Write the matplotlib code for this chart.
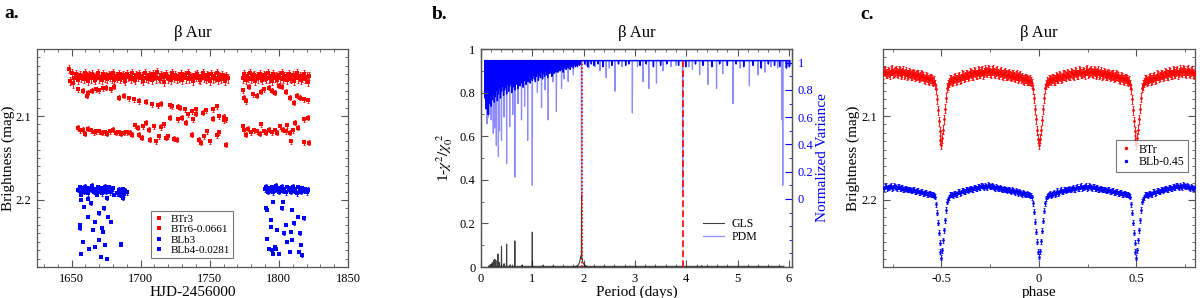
import numpy as np
import matplotlib
matplotlib.use("Agg")
import matplotlib.pyplot as plt
from matplotlib.ticker import MultipleLocator

plt.rcParams["font.family"] = "serif"
plt.rcParams["font.serif"] = ["Liberation Serif", "DejaVu Serif"]
plt.rcParams["mathtext.fontset"] = "stix"

RED = "#ff0000"
BLUE = "#0000ff"

# ---------------- panel a: light curves (mag offsets in mmag from 2.000) ----------------
red_nights1 = np.arange(1648, 1764)
red_band1 = [44, 58, 49, 61, 55, 50, 53, 57, 51, 54,
             52, 56, 49, 53, 58, 51, 55, 50, 54, 57,
             52, 49, 55, 53, 57, 50, 54, 52, 56, 51,
             53, 55, 49, 57, 52, 54, 50, 56, 53, 51,
             55, 58, 50, 53, 52, 56, 49, 54, 57, 51,
             53, 50, 55, 52, 58, 49, 54, 56, 51, 53,
             57, 50, 52, 55, 48, 54, 56, 51, 53, 59,
             50, 52, 55, 53, 57, 49, 54, 51, 56, 52,
             54, 50, 57, 53, 51, 55, 49, 56, 52, 54,
             58, 51, 53, 50, 55, 57, 52, 49, 54, 56,
             51, 53, 58, 50, 55, 52, 54, 49, 57, 53,
             56, 51, 54, 58, 52, 55]
red_ecl1_day = [1655, 1658.5, 1661, 1662, 1664.5, 1668, 1670, 1672.5, 1675, 1678.6, 1681, 1684.5,
                1688, 1691.7, 1695, 1698.8, 1703.6, 1708, 1712.6, 1715, 1721, 1723, 1727, 1728.5,
                1732, 1737, 1740, 1745, 1747.5, 1752, 1755, 1757, 1760, 1762,
                1655, 1656, 1658, 1660, 1662, 1664, 1666, 1668, 1670, 1672, 1674, 1676, 1678,
                1680, 1682, 1684, 1686, 1688, 1690, 1692, 1694, 1696, 1698, 1699, 1701, 1702,
                1704, 1706, 1707, 1709.5, 1711, 1713, 1714.5, 1716.7, 1718, 1720, 1721.4, 1724,
                1726, 1727, 1730, 1733, 1734.5, 1737, 1738, 1740, 1742, 1744, 1746, 1748, 1750,
                1752, 1755, 1757, 1760, 1762]
red_ecl1_mmag = [68, 70, 76, 72, 70, 68, 69, 67, 66, 68, 65, 78,
                 76, 79, 80, 82, 83, 86, 87, 85, 87, 88, 89, 90,
                 92, 94, 92, 96, 93, 92, 88, 100, 101, 104,
                 114, 117, 116, 121, 115, 117, 119, 118, 118, 120, 119, 121, 118,
                 116, 120, 119, 121, 120, 119, 120, 122, 111, 114, 122, 126, 112,
                 108, 116, 128, 112, 130, 124, 113, 110, 126, 124, 102, 127,
                 128, 104, 102, 108, 98, 122, 104, 97, 128, 132, 124, 118, 130,
                 103, 123, 119, 105, 134]

red_nights2 = np.arange(1774, 1823)
red_band2 = [55, 50, 57, 52, 54, 49, 56, 53, 51, 58,
             52, 55, 50, 54, 57, 51, 53, 56, 49, 55,
             52, 58, 50, 54, 53, 57, 51, 55, 49, 56,
             53, 52, 57, 50, 54, 56, 51, 58, 53, 49,
             55, 52, 57, 54, 50, 56, 53, 59, 52]
red_ecl2_day = [1774, 1775, 1776, 1778.6, 1781, 1784.5, 1787, 1789, 1792.9, 1795, 1797, 1800,
                1802, 1805, 1808.3, 1810.7, 1813, 1815, 1818, 1821,
                1774, 1775, 1776, 1778, 1780, 1782, 1784, 1786, 1787, 1789, 1791, 1793, 1795,
                1797, 1799, 1801, 1803, 1805, 1806, 1808, 1808.6, 1810, 1812, 1814, 1818,
                1818.3, 1821, 1821.5]
red_ecl2_mmag = [69, 78, 82, 65, 74, 76, 71, 68, 66, 70, 72, 64,
                 65, 71, 78, 84, 76, 78, 80, 81,
                 112, 117, 122, 115, 119, 117, 118, 121, 110, 118, 120, 116, 119,
                 117, 120, 112, 116, 118, 111, 120, 130, 117, 108, 114, 104,
                 131, 102, 132]

blue_nightsA = np.arange(1655, 1681)
blue_bandA = [188, 185, 191, 186, 190, 184, 189, 192, 186, 188,
              183, 190, 187, 191, 185, 189, 186, 192, 188, 184,
              190, 187, 185, 191, 188, 186]
blue_nightsB = np.arange(1683, 1691)
blue_bandB = [192, 188, 194, 190, 187, 193, 189, 191]
blue_ecl1_day = [1656.7, 1657.2, 1656, 1656.3, 1656.8, 1658.3, 1659, 1662.2, 1662, 1663, 1664,
                 1665.5, 1666.7, 1666.9, 1668.5, 1669.8, 1670, 1671.4, 1672, 1672.8, 1673.8,
                 1674.5, 1675.5, 1676, 1676.3, 1678.6, 1681, 1685.7, 1686, 1687]
blue_ecl1_mmag = [194, 200, 230, 234, 264, 250, 208, 199, 220, 258, 204,
                  236, 226, 256, 194, 216, 248, 268, 234, 238, 210,
                  254, 198, 270, 220, 226, 194, 252, 254, 198]

blue_nightsC = np.arange(1790, 1822)
blue_bandC = [187, 184, 190, 186, 189, 185, 191, 187, 183, 188,
              190, 186, 184, 189, 187, 191, 185, 188, 186, 190,
              184, 189, 187, 192, 185, 188, 190, 186, 189, 187,
              191, 188]
blue_ecl2_day = [1790.5, 1791.5, 1791.7, 1793, 1794, 1794.2, 1795, 1795.5, 1796, 1797.5, 1798,
                 1798.8, 1800, 1802, 1803, 1803.6, 1805, 1806, 1808.3, 1808.5, 1809.5, 1809.8,
                 1810.7, 1814, 1814.2, 1815.5, 1816, 1816.7, 1818]
blue_ecl2_mmag = [210, 212, 246, 258, 224, 232, 260, 264, 202, 256, 258,
                  236, 264, 210, 202, 240, 230, 250, 262, 238, 212, 248,
                  228, 220, 262, 240, 254, 266, 222]

# ---------------- panel b: periodograms ----------------
pdm_dense_period = np.arange(0.08, 1.95, 0.02)
pdm_dense_value = [0.74, 0.66, 0.72, 0.62, 0.70, 0.76, 0.68, 0.73, 0.78, 0.71,
                   0.75, 0.80, 0.72, 0.77, 0.81, 0.74, 0.79, 0.83, 0.76, 0.80,
                   0.82, 0.77, 0.84, 0.79, 0.83, 0.86, 0.78, 0.82, 0.85, 0.80,
                   0.84, 0.87, 0.81, 0.86, 0.83, 0.88, 0.85, 0.82, 0.87, 0.89,
                   0.84, 0.88, 0.86, 0.90, 0.85, 0.89, 0.87, 0.91, 0.88, 0.86,
                   0.90, 0.92, 0.87, 0.91, 0.89, 0.93, 0.88, 0.92, 0.90, 0.94,
                   0.91, 0.89, 0.93, 0.92, 0.95, 0.90, 0.94, 0.92, 0.96, 0.93,
                   0.95, 0.93, 0.96, 0.94, 0.97, 0.95, 0.93, 0.96, 0.97, 0.95,
                   0.97, 0.96, 0.98, 0.95, 0.97, 0.98, 0.96, 0.99, 0.97, 0.98,
                   0.97, 0.99, 0.98, 0.99]
pdm_wiggle_period = [2.02, 2.08, 2.15, 2.20, 2.28, 2.38, 2.55, 2.68, 2.82, 2.88, 3.10, 3.22,
                     3.36, 3.50, 3.62, 3.85, 3.99, 4.18, 4.33, 4.50, 4.65, 4.80, 4.97, 5.12,
                     5.30, 5.46, 5.60, 5.72, 5.82, 5.95, 6.01]
pdm_wiggle_value = [0.99, 0.97, 0.99, 0.98, 0.99, 0.97, 0.98, 0.99, 0.98, 0.99, 0.98, 0.99,
                    0.97, 0.98, 0.99, 0.98, 0.97, 0.99, 0.98, 0.97, 0.99, 0.98, 0.99, 0.97,
                    0.98, 0.96, 0.99, 0.98, 0.97, 0.96, 0.97]
pdm_deep_period = [0.10, 0.12, 0.14, 0.175, 0.20, 0.24, 0.27, 0.30, 0.34, 0.36, 0.40, 0.45,
                   0.50, 0.56, 0.62, 0.66, 0.72, 0.79, 0.85, 0.91, 1.00, 1.10, 1.18, 1.25,
                   1.31, 1.40, 1.47, 1.57, 1.62, 1.70, 1.80, 1.96]
pdm_deep_value = [0.69, 0.55, 0.60, 0.62, 0.58, 0.48, 0.52, 0.39, 0.31, 0.50, 0.43, 0.60,
                  0.26, 0.53, 0.62, 0.16, 0.70, 0.58, 0.68, 0.43, 0.10, 0.78, 0.67, 0.80,
                  0.58, 0.86, 0.64, 0.81, 0.88, 0.86, 0.91, 0.0]
pdm_late_period = [2.05, 2.10, 2.22, 2.32, 2.44, 2.50, 2.61, 2.75, 2.95, 3.05, 3.16, 3.27,
                   3.42, 3.55, 3.70, 3.80, 3.93, 4.05, 4.12, 4.26, 4.42, 4.59, 4.71, 4.91,
                   5.05, 5.23, 5.40, 5.53, 5.65, 5.78, 5.86, 5.88, 5.98, 6.03]
pdm_late_value = [0.98, 0.96, 0.97, 0.94, 0.89, 0.96, 0.79, 0.97, 0.63, 0.97, 0.86, 0.81,
                  0.85, 0.94, 0.97, 0.98, 0.05, 0.97, 0.95, 0.91, 0.84, 0.81, 0.92, 0.70,
                  0.96, 0.83, 0.91, 0.93, 0.97, 0.96, 0.58, 0.10, 0.97, 0.98]

gls_spike_period = [0.15, 0.18, 0.20, 0.22, 0.25, 0.27, 0.29, 0.33, 0.36, 0.40, 0.45, 0.50,
                    0.57, 0.66, 0.80, 1.00, 1.20, 1.40, 2.40, 2.90, 3.40, 4.30, 4.80, 5.90]
gls_spike_value = [0.005, 0.010, 0.012, 0.020, 0.030, 0.035, 0.030, 0.060, 0.020, 0.095, 0.015, 0.105,
                   0.010, 0.120, 0.008, 0.160, 0.006, 0.005, 0.004, 0.004, 0.004, 0.006, 0.003, 0.003]
gls_bump_period = [1.85, 1.88, 1.91, 1.93, 1.945, 1.955, 1.96, 1.965, 1.975, 1.99, 2.03, 2.06]
gls_bump_value = [0.003, 0.006, 0.015, 0.030, 0.050, 0.040, 0.330, 0.045, 0.030, 0.018, 0.006, 0.003]
best_periods = [1.96, 3.93]

# ---------------- panel c: phased light curves (mmag from 2.000) ----------------
phase_a = np.arange(0.0, 1.0, 0.01)
phase_b = phase_a + 0.005
btr_a = [134, 117, 92, 67, 59, 57, 58, 55, 57, 54, 55, 53, 54, 51, 53, 50, 52, 49, 51, 48,
         50, 47, 49, 48, 46, 49, 47, 48, 46, 49, 48, 50, 47, 50, 49, 51, 50, 52, 51, 53,
         52, 55, 53, 56, 55, 57, 58, 68, 93, 118, 134, 116, 91, 66, 60, 56, 58, 54, 56, 53,
         55, 52, 53, 50, 52, 49, 51, 48, 50, 47, 49, 46, 48, 47, 45, 48, 46, 48, 47, 49,
         48, 50, 49, 51, 50, 52, 51, 53, 52, 54, 53, 55, 56, 55, 57, 58, 59, 68, 92, 117]
btr_b = [127, 105, 79, 62, 60, 56, 55, 57, 53, 55, 52, 55, 51, 52, 49, 52, 48, 50, 47, 50,
         46, 49, 47, 50, 45, 48, 46, 49, 47, 50, 46, 49, 51, 48, 52, 49, 53, 50, 54, 51,
         53, 56, 54, 57, 55, 59, 62, 80, 106, 128, 126, 104, 78, 63, 57, 59, 55, 57, 54, 56,
         51, 54, 50, 53, 48, 51, 47, 50, 46, 49, 47, 50, 45, 48, 46, 49, 45, 49, 46, 50,
         47, 51, 48, 52, 49, 53, 50, 54, 51, 55, 52, 54, 57, 55, 58, 57, 61, 79, 104, 127]
blb_a = [268, 249, 225, 204, 196, 193, 195, 192, 193, 190, 192, 189, 190, 188, 189, 187, 188, 186, 187, 185,
         186, 184, 186, 185, 183, 185, 184, 186, 184, 186, 185, 187, 186, 188, 187, 189, 188, 190, 189, 191,
         190, 192, 191, 193, 192, 194, 195, 205, 227, 251, 269, 248, 224, 202, 197, 194, 195, 192, 193, 190,
         191, 189, 190, 187, 188, 186, 187, 185, 186, 184, 185, 183, 185, 184, 182, 184, 183, 185, 184, 186,
         185, 187, 186, 188, 187, 189, 188, 190, 189, 191, 190, 192, 191, 193, 192, 194, 195, 204, 226, 250]
blb_b = [261, 237, 213, 198, 195, 192, 194, 191, 192, 189, 191, 188, 190, 187, 188, 186, 187, 185, 187, 184,
         186, 183, 185, 184, 186, 183, 185, 184, 186, 185, 187, 186, 188, 187, 189, 188, 190, 189, 191, 190,
         192, 191, 193, 192, 194, 193, 196, 215, 239, 262, 260, 236, 212, 199, 194, 193, 192, 193, 190, 192,
         189, 190, 188, 189, 186, 187, 185, 186, 184, 185, 183, 184, 183, 185, 183, 184, 184, 186, 185, 186,
         186, 188, 187, 189, 188, 190, 189, 191, 190, 192, 191, 193, 192, 194, 193, 195, 197, 214, 238, 262]


def mag(mmag):
    return 2.0 + np.asarray(mmag, dtype=float) / 1000.0


def points(ax, x, mmag, color, yerr, label=None, ms=2.2, marker="s"):
    y = mag(mmag)
    ax.errorbar(x, y, yerr=yerr, fmt="none", ecolor=color, elinewidth=0.6,
                capsize=0.8, capthick=0.6, zorder=2)
    ax.plot(x, y, marker, color=color, ms=ms, mew=0, label=label, zorder=3)


def zigzag(periods, values, base, half):
    periods = np.asarray(periods, dtype=float)
    values = np.asarray(values, dtype=float)
    order = np.argsort(periods)
    xs, ys = [], []
    for p, v in zip(periods[order], values[order]):
        xs += [p - half, p, p + half]
        ys += [base, v, base]
    return xs, ys


def frame(ax):
    for s in ax.spines.values():
        s.set_color("#555555")
        s.set_linewidth(0.9)
    ax.tick_params(which="both", direction="in", top=True, right=True, labelsize=9,
                   color="#555555", pad=4)
    ax.tick_params(which="major", length=5)
    ax.tick_params(which="minor", length=2.5)


fig = plt.figure(figsize=(12, 2.98), dpi=100)
ax_a = fig.add_axes([0.0308, 0.104, 0.2592, 0.7315])
ax_b = fig.add_axes([0.4008, 0.104, 0.2592, 0.7315])
ax_c = fig.add_axes([0.7358, 0.104, 0.2600, 0.7315])

# ---- a ----
points(ax_a, red_nights1, red_band1, RED, 0.005, "BTr3", ms=2.4)
points(ax_a, red_ecl1_day, red_ecl1_mmag, RED, 0.003)
points(ax_a, red_nights2, red_band2, RED, 0.005, "BTr6-0.0661", ms=2.4)
points(ax_a, red_ecl2_day, red_ecl2_mmag, RED, 0.003)
points(ax_a, np.concatenate([blue_nightsA, blue_nightsB]), blue_bandA + blue_bandB, BLUE, 0.003,
       "BLb3", ms=2.4)
points(ax_a, blue_ecl1_day, blue_ecl1_mmag, BLUE, 0.0015)
points(ax_a, blue_nightsC, blue_bandC, BLUE, 0.003, "BLb4-0.0281", ms=2.4)
points(ax_a, blue_ecl2_day, blue_ecl2_mmag, BLUE, 0.0015)
ax_a.set_xlim(1625, 1850)
ax_a.set_ylim(2.28, 2.02)
ax_a.xaxis.set_major_locator(MultipleLocator(50))
ax_a.xaxis.set_minor_locator(MultipleLocator(10))
ax_a.yaxis.set_major_locator(MultipleLocator(0.1))
ax_a.yaxis.set_minor_locator(MultipleLocator(0.01))
frame(ax_a)
ax_a.set_xlabel("HJD-2456000", fontsize=11, labelpad=1)
ax_a.set_ylabel("Brightness (mag)", fontsize=11)
ax_a.yaxis.set_label_coords(-0.072, 0.5)
ax_a.set_title("\u03b2 Aur", fontsize=12, pad=9)
leg = ax_a.legend(loc="lower left", bbox_to_anchor=(0.35, 0.015), fontsize=8, frameon=True,
                  fancybox=False, edgecolor="#555555", handlelength=0.8, handletextpad=0.6,
                  borderpad=0.3, labelspacing=0.05, markerscale=1.0)
leg.get_frame().set_linewidth(0.8)

# ---- b ----
ax_b2 = ax_b.twinx()
sx, sy = zigzag(np.concatenate([pdm_dense_period, pdm_wiggle_period]),
                pdm_dense_value + pdm_wiggle_value, 1.015, 0.005)
ax_b2.plot(sx, sy, color=BLUE, lw=1.0, alpha=1.0)
fx, fy = zigzag(pdm_deep_period + pdm_late_period, pdm_deep_value + pdm_late_value, 1.015, 0.004)
pdm_line, = ax_b2.plot(fx, fy, color=BLUE, lw=0.9, alpha=0.45)
gx, gy = zigzag(gls_spike_period, gls_spike_value, 0.003, 0.004)
gls_line, = ax_b.plot(gx, gy, color="black", lw=0.8, alpha=0.75)
ax_b.plot(gls_bump_period, gls_bump_value, color="black", lw=0.8, alpha=0.75)
ax_b.vlines(best_periods[0], 0, 0.945, colors=RED, linestyles=(0, (1, 1.2)), lw=1.2, zorder=5)
ax_b.vlines(best_periods[1], 0, 0.945, colors=RED, linestyles=(0, (4, 2)), lw=1.2, zorder=5)
ax_b.set_zorder(ax_b2.get_zorder() + 1)
ax_b.patch.set_visible(False)
ax_b.set_xlim(0, 6.06)
ax_b.set_ylim(0, 1)
ax_b2.set_ylim(-0.5, 1.1)
ax_b.xaxis.set_major_locator(MultipleLocator(1))
ax_b.xaxis.set_minor_locator(MultipleLocator(0.2))
ax_b.yaxis.set_minor_locator(MultipleLocator(0.1))
ax_b2.set_yticks([0, 0.2, 0.4, 0.6, 0.8, 1.0])
ax_b2.set_yticklabels(["0", "0.2", "0.4", "0.6", "0.8", "1"])
ax_b2.yaxis.set_minor_locator(MultipleLocator(0.1))
ax_b.set_yticks([0, 0.2, 0.4, 0.6, 0.8, 1.0])
ax_b.set_yticklabels(["0", "0.2", "0.4", "0.6", "0.8", "1"])
frame(ax_b)
ax_b.tick_params(which="both", right=False)
for s in ax_b2.spines.values():
    s.set_color("#555555")
    s.set_linewidth(0.9)
ax_b2.tick_params(which="both", direction="in", colors=BLUE, labelsize=9, pad=4)
ax_b2.tick_params(which="major", length=5)
ax_b2.tick_params(which="minor", length=2.5)
ax_b.set_xlabel("Period (days)", fontsize=11, labelpad=1)
ax_b.set_ylabel(r"1-$\chi^2/\chi_0^{\ 2}$", fontsize=11)
ax_b.yaxis.set_label_coords(-0.085, 0.5)
ax_b2.set_ylabel("Normalized Variance", fontsize=11, color=BLUE)
ax_b2.yaxis.set_label_coords(1.078, 0.5)
ax_b.set_title("\u03b2 Aur", fontsize=12, pad=9)
ax_b.legend([gls_line, pdm_line], ["GLS", "PDM"], loc="lower left", bbox_to_anchor=(0.68, 0.06),
            fontsize=8.5, frameon=False, handlelength=1.8, handletextpad=0.6, labelspacing=0.1)

# ---- c ----
for ph, mm, color, err in [(phase_a, btr_a, RED, 0.0055), (phase_b, btr_b, RED, 0.0055),
                           (phase_a, blb_a, BLUE, 0.003), (phase_b, blb_b, BLUE, 0.003)]:
    points(ax_c, ph, mm, color, err, ms=2.0, marker="o")
    points(ax_c, ph - 1.0, mm, color, err, ms=2.0, marker="o")
ax_c.plot([], [], "o", color=RED, ms=2.5, mew=0, label="BTr")
ax_c.plot([], [], "o", color=BLUE, ms=2.5, mew=0, label="BLb-0.45")
ax_c.set_xlim(-0.8, 0.8)
ax_c.set_ylim(2.28, 2.02)
ax_c.xaxis.set_minor_locator(MultipleLocator(0.25))
ax_c.yaxis.set_major_locator(MultipleLocator(0.1))
ax_c.yaxis.set_minor_locator(MultipleLocator(0.01))
frame(ax_c)
ax_c.set_xticks([-0.5, 0, 0.5])
ax_c.set_xticklabels(["-0.5", "0", "0.5"])
ax_c.set_xlabel("phase", fontsize=11, labelpad=1)
ax_c.set_ylabel("Brightness (mag)", fontsize=11)
ax_c.yaxis.set_label_coords(-0.072, 0.5)
ax_c.set_title("\u03b2 Aur", fontsize=12, pad=9)
leg = ax_c.legend(loc="lower right", bbox_to_anchor=(0.997, 0.41), fontsize=8.5, frameon=True,
                  fancybox=False, edgecolor="#555555", handlelength=1.0, handletextpad=0.6,
                  borderpad=0.3, labelspacing=0.05)
leg.get_frame().set_linewidth(0.8)

fig.text(0.004, 0.955, "a.", fontsize=14, fontweight="bold", va="center")
fig.text(0.360, 0.950, "b.", fontsize=14, fontweight="bold", va="center")
fig.text(0.717, 0.950, "c.", fontsize=14, fontweight="bold", va="center")

fig.savefig("out.png", dpi=100)
